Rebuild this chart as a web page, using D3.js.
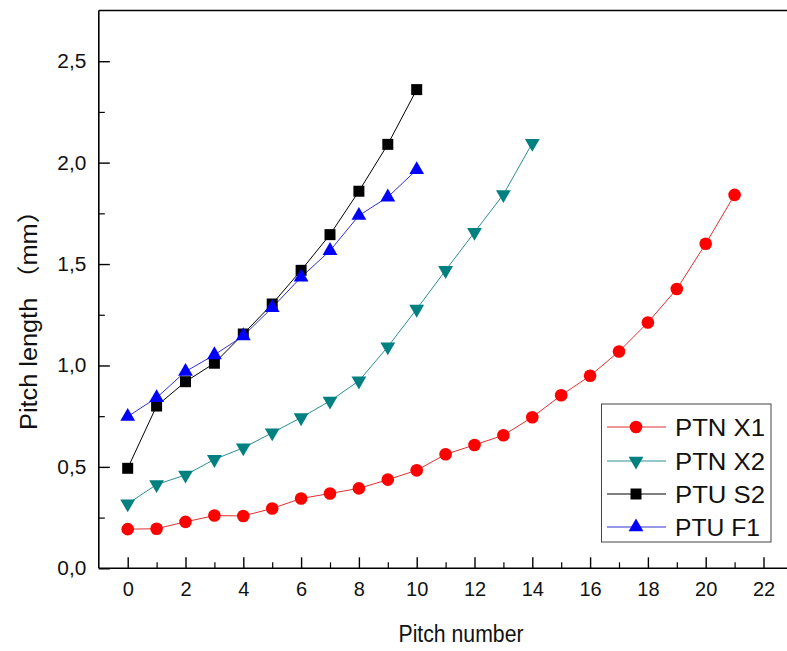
<!DOCTYPE html>
<html>
<head>
<meta charset="utf-8">
<script src="https://cdn.jsdelivr.net/npm/d3@7"></script>
<style>
  html, body { margin: 0; padding: 0; background: #fff; }
  svg { display: block; }
  text { font-family: Arial, "Liberation Sans", Helvetica, sans-serif; fill: #111; }
</style>
</head>
<body>
<svg id="chart" width="787" height="651"></svg>
<script>
// ---- data ----
const seriesNames = ["PTN X1", "PTN X2", "PTU S2", "PTU F1"];
const ptnX1 = [0.193, 0.195, 0.229, 0.26, 0.258, 0.295, 0.344, 0.369, 0.394, 0.437, 0.483,
               0.562, 0.608, 0.656, 0.745, 0.853, 0.949, 1.069, 1.212, 1.377, 1.6, 1.841];
const ptnX2 = [0.318, 0.413, 0.46, 0.537, 0.594, 0.668, 0.743, 0.825, 0.924, 1.092, 1.278,
               1.469, 1.657, 1.843, 2.096];
const ptuS2 = [0.493, 0.80, 0.92, 1.011, 1.155, 1.303, 1.469, 1.645, 1.859, 2.09, 2.36];
const ptuF1 = [0.748, 0.841, 0.97, 1.052, 1.146, 1.285, 1.435, 1.566, 1.739, 1.83, 1.965];
const xTicks = [0, 2, 4, 6, 8, 10, 12, 14, 16, 18, 20, 22];
const yTicks = [0, 0.5, 1.0, 1.5, 2.0, 2.5];
const xTitle = "Pitch number";
const yTitle = "Pitch length （mm）";

// ---- layout ----
const svg = d3.select("#chart");
const plotLeft = 98.8, plotTop = 10.5, plotBottom = 568.3;
const x = d3.scaleLinear().domain([-1, 23]).range([plotLeft, plotLeft + 24 * 28.9]);
const y = d3.scaleLinear().domain([0, 2.75]).range([plotBottom, plotTop]);

const styles = [
  { name: seriesNames[0], data: ptnX1, color: "#ff0000", line: "#e03030", sym: d3.symbolCircle, size: 125, rot: 0 },
  { name: seriesNames[1], data: ptnX2, color: "#008080", line: "#2a9090", sym: d3.symbolTriangle, size: 95, rot: 180 },
  { name: seriesNames[2], data: ptuS2, color: "#000000", line: "#000000", sym: d3.symbolSquare, size: 121, rot: 0 },
  { name: seriesNames[3], data: ptuF1, color: "#0000ff", line: "#3030d0", sym: d3.symbolTriangle, size: 95, rot: 0 }
];
const fontStack = "Arial, 'Liberation Sans', sans-serif";

// frame: top line
svg.append("line")
  .attr("x1", plotLeft).attr("x2", 787).attr("y1", plotTop).attr("y2", plotTop)
  .attr("stroke", "#000").attr("stroke-width", 1.6);

// axes
const xAxis = svg.append("g").attr("transform", `translate(0,${plotBottom})`)
  .call(d3.axisBottom(x).tickValues(xTicks).tickSize(-11).tickPadding(14).tickFormat(d3.format("d")));
xAxis.select(".domain").attr("d", `M${plotLeft},0H787`).attr("stroke-width", 1.6);
xAxis.selectAll(".tick line").attr("stroke-width", 1.4);
xAxis.selectAll("text").attr("font-size", 20).attr("fill", "#111").attr("font-family", fontStack);

const xMinor = svg.append("g").attr("transform", `translate(0,${plotBottom})`)
  .call(d3.axisBottom(x).tickValues(d3.range(1, 23, 2)).tickSize(-6).tickFormat(""));
xMinor.select(".domain").remove();
xMinor.selectAll(".tick line").attr("stroke-width", 1.2);

const fmtY = v => d3.format(".1f")(v).replace(".", ",");
const yAxis = svg.append("g").attr("transform", `translate(${plotLeft},0)`)
  .call(d3.axisLeft(y).tickValues(yTicks).tickSize(-11).tickPadding(12.5).tickFormat(fmtY));
yAxis.select(".domain").attr("d", `M0,${plotTop}V${plotBottom}`).attr("stroke-width", 1.6);
yAxis.selectAll(".tick line").attr("stroke-width", 1.4);
yAxis.selectAll("text").attr("font-size", 20).attr("fill", "#111").attr("font-family", fontStack)
  .attr("textLength", 29).attr("lengthAdjust", "spacingAndGlyphs");

const yMinor = svg.append("g").attr("transform", `translate(${plotLeft},0)`)
  .call(d3.axisLeft(y).tickValues([0.25, 0.75, 1.25, 1.75, 2.25]).tickSize(-6).tickFormat(""));
yMinor.select(".domain").remove();
yMinor.selectAll(".tick line").attr("stroke-width", 1.2);

// titles
svg.append("text").attr("x", 461).attr("y", 642).attr("text-anchor", "middle")
  .attr("font-size", 23).attr("textLength", 125).attr("lengthAdjust", "spacingAndGlyphs")
  .text(xTitle);
svg.append("text").attr("transform", "translate(37,314) rotate(-90)").attr("text-anchor", "middle")
  .attr("font-size", 23).attr("textLength", 232).attr("lengthAdjust", "spacingAndGlyphs")
  .style("font-family", "Arial, 'Liberation Sans', 'Noto Sans CJK SC', sans-serif")
  .text(yTitle);

// series
const line = d3.line().x((d, i) => x(i)).y(d => y(d));
styles.forEach(s => {
  svg.append("path").datum(s.data).attr("d", line)
    .attr("fill", "none").attr("stroke", s.line).attr("stroke-width", 1);
});
styles.forEach(s => {
  const sym = d3.symbol().type(s.sym).size(s.size);
  svg.append("g").selectAll("path").data(s.data).join("path")
    .attr("d", sym)
    .attr("transform", (d, i) => `translate(${x(i)},${y(d)}) rotate(${s.rot})`)
    .attr("fill", s.color);
});

// legend
const lg = svg.append("g");
lg.append("rect").attr("x", 601.5).attr("y", 404).attr("width", 169.5).attr("height", 138)
  .attr("fill", "#fff").attr("stroke", "#444").attr("stroke-width", 1);
const ly = [427, 461, 494, 527];
styles.forEach((s, i) => {
  lg.append("line").attr("x1", 607).attr("x2", 666).attr("y1", ly[i]).attr("y2", ly[i])
    .attr("stroke", s.line).attr("stroke-width", 1);
  lg.append("path").attr("d", d3.symbol().type(s.sym).size(s.size))
    .attr("transform", `translate(636,${ly[i]}) rotate(${s.rot})`).attr("fill", s.color);
  lg.append("text").attr("x", 675).attr("y", ly[i]).attr("dy", "0.36em")
    .attr("font-size", 24).attr("textLength", s.name === "PTU F1" ? 85 : 90)
    .attr("lengthAdjust", "spacingAndGlyphs").text(s.name);
});
</script>
</body>
</html>
